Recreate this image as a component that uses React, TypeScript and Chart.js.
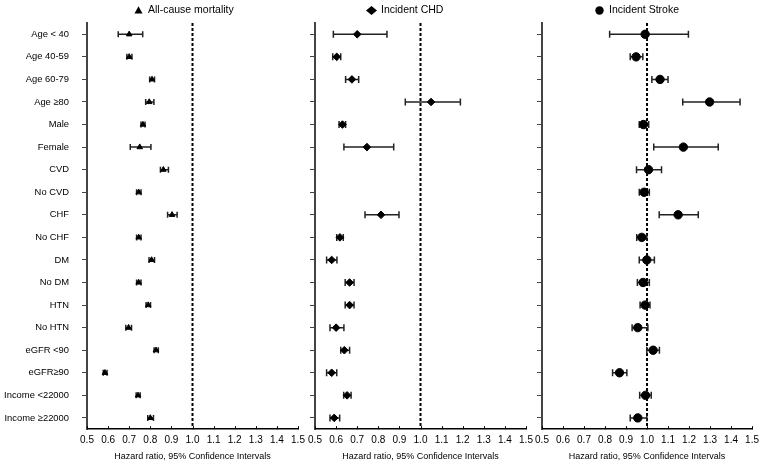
import React, { useEffect, useRef } from 'react';
import { Chart, registerables } from 'chart.js';

Chart.register(...registerables);

const FONT = '"Liberation Sans", Arial, sans-serif';

const categories = [
  'Age < 40', 'Age 40-59', 'Age 60-79', 'Age ≥80', 'Male', 'Female', 'CVD', 'No CVD', 'CHF',
  'No CHF', 'DM', 'No DM', 'HTN', 'No HTN', 'eGFR <90', 'eGFR≥90', 'Income <22000', 'Income ≥22000',
];

const xTicks = [0.5, 0.6, 0.7, 0.8, 0.9, 1.0, 1.1, 1.2, 1.3, 1.4, 1.5];

const mortalityHR = [0.70, 0.70, 0.808, 0.795, 0.765, 0.75, 0.862, 0.745, 0.903, 0.745, 0.806, 0.745, 0.79, 0.697, 0.827, 0.585, 0.742, 0.80];
const mortalityLo = [0.648, 0.689, 0.797, 0.778, 0.756, 0.705, 0.848, 0.735, 0.882, 0.735, 0.794, 0.735, 0.78, 0.684, 0.818, 0.577, 0.733, 0.788];
const mortalityHi = [0.764, 0.713, 0.82, 0.817, 0.775, 0.803, 0.886, 0.756, 0.927, 0.756, 0.82, 0.756, 0.801, 0.711, 0.838, 0.595, 0.752, 0.815];

const chdHR = [0.70, 0.603, 0.675, 1.05, 0.63, 0.746, null, null, 0.813, 0.618, 0.579, 0.664, 0.664, 0.60, 0.639, 0.579, 0.652, 0.591];
const chdLo = [0.587, 0.584, 0.645, 0.928, 0.614, 0.637, null, null, 0.737, 0.603, 0.555, 0.643, 0.643, 0.571, 0.622, 0.555, 0.636, 0.571];
const chdHi = [0.841, 0.622, 0.707, 1.189, 0.645, 0.873, null, null, 0.898, 0.634, 0.604, 0.685, 0.685, 0.637, 0.664, 0.603, 0.671, 0.617];

const strokeHR = [0.991, 0.948, 1.062, 1.298, 0.983, 1.173, 1.007, 0.986, 1.148, 0.975, 0.999, 0.981, 0.991, 0.956, 1.029, 0.869, 0.993, 0.956];
const strokeLo = [0.822, 0.92, 1.023, 1.17, 0.963, 1.032, 0.95, 0.963, 1.058, 0.951, 0.963, 0.954, 0.967, 0.929, 0.999, 0.836, 0.965, 0.92];
const strokeHi = [1.197, 0.98, 1.10, 1.443, 1.008, 1.339, 1.069, 1.011, 1.244, 0.999, 1.035, 1.011, 1.014, 1.004, 1.059, 0.904, 1.02, 0.999];

const legendLabels = ['All-cause mortality', 'Incident CHD', 'Incident Stroke'];
const xTitle = 'Hazard ratio, 95% Confidence Intervals';
const refValue = 1.0;

type Panel = {
  label: string;
  hr: (number | null)[];
  lo: (number | null)[];
  hi: (number | null)[];
  pointStyle: 'triangle' | 'rectRot' | 'circle';
  radius: number;
  showLabels: boolean;
  left: number;
  width: number;
  axisWidth: number;
  padRight: number;
  legendTextOffset: number;
  capHalf: number;
};

const panels: Panel[] = [
  { label: legendLabels[0], hr: mortalityHR, lo: mortalityLo, hi: mortalityHi, pointStyle: 'triangle', radius: 3.2, showLabels: true,
    left: 0, width: 312, axisWidth: 87, padRight: 14, legendTextOffset: 61, capHalf: 3 },
  { label: legendLabels[1], hr: chdHR, lo: chdLo, hi: chdHi, pointStyle: 'rectRot', radius: 3.8, showLabels: false,
    left: 300, width: 240, axisWidth: 15, padRight: 14, legendTextOffset: 66, capHalf: 3.5 },
  { label: legendLabels[2], hr: strokeHR, lo: strokeLo, hi: strokeHi, pointStyle: 'circle', radius: 4.2, showLabels: false,
    left: 528, width: 236, axisWidth: 14, padRight: 11, legendTextOffset: 67, capHalf: 3.5 },
];

function drawMarker(ctx: CanvasRenderingContext2D, style: string, cx: number, cy: number) {
  ctx.beginPath();
  if (style === 'triangle') {
    ctx.moveTo(cx, cy - 4.2);
    ctx.lineTo(cx + 4, cy + 3);
    ctx.lineTo(cx - 4, cy + 3);
    ctx.closePath();
  } else if (style === 'rectRot') {
    ctx.moveTo(cx, cy - 4.5);
    ctx.lineTo(cx + 5.5, cy);
    ctx.lineTo(cx, cy + 4.5);
    ctx.lineTo(cx - 5.5, cy);
    ctx.closePath();
  } else {
    ctx.arc(cx, cy, 4.2, 0, Math.PI * 2);
  }
  ctx.fill();
}

function makeForestPlugin(p: Panel) {
  return {
    id: 'forest',
    beforeDatasetsDraw(chart: any) {
      const { ctx, chartArea, scales } = chart;
      const x = scales.x;
      const y = scales.y;
      ctx.save();
      // reference line
      const rx = x.getPixelForValue(refValue);
      ctx.strokeStyle = '#000';
      ctx.lineWidth = 2;
      ctx.setLineDash([3, 2]);
      ctx.beginPath();
      ctx.moveTo(rx, chartArea.top);
      ctx.lineTo(rx, chartArea.bottom);
      ctx.stroke();
      ctx.setLineDash([]);
      // confidence intervals
      ctx.strokeStyle = '#222';
      ctx.lineWidth = 1.5;
      p.lo.forEach((lo, i) => {
        const hi = p.hi[i];
        if (lo == null || hi == null) return;
        const py = y.getPixelForValue(i);
        const x1 = x.getPixelForValue(lo);
        const x2 = x.getPixelForValue(hi);
        ctx.beginPath();
        ctx.moveTo(x1, py);
        ctx.lineTo(x2, py);
        ctx.moveTo(x1, py - p.capHalf);
        ctx.lineTo(x1, py + p.capHalf);
        ctx.moveTo(x2, py - p.capHalf);
        ctx.lineTo(x2, py + p.capHalf);
        ctx.stroke();
      });
      ctx.restore();
    },
    afterDraw(chart: any) {
      const { ctx, chartArea, scales } = chart;
      const x = scales.x;
      ctx.save();
      // small inward x tick marks
      ctx.strokeStyle = '#000';
      ctx.lineWidth = 1;
      x.ticks.forEach((t: any) => {
        const px = Math.round(x.getPixelForValue(t.value)) + 0.5;
        ctx.beginPath();
        ctx.moveTo(px, chartArea.bottom);
        ctx.lineTo(px, chartArea.bottom - 3);
        ctx.stroke();
      });
      // legend
      const tx = chartArea.left + p.legendTextOffset;
      const ty = 10.5;
      ctx.fillStyle = '#000';
      drawMarker(ctx, p.pointStyle, tx - 9.5, ty);
      ctx.font = `10.5px ${FONT}`;
      ctx.textAlign = 'left';
      ctx.textBaseline = 'middle';
      ctx.fillText(p.label, tx, ty);
      ctx.restore();
    },
  };
}

function PanelChart({ p }: { p: Panel }) {
  const ref = useRef<HTMLCanvasElement | null>(null);
  useEffect(() => {
    if (!ref.current) return;
    const data = categories
      .map((c, i) => (p.hr[i] == null ? null : { x: p.hr[i] as number, y: c }))
      .filter((d) => d !== null);
    const chart = new Chart(ref.current, {
      type: 'scatter',
      data: {
        datasets: [
          {
            label: p.label,
            data: data as any,
            pointStyle: p.pointStyle,
            pointRadius: p.radius,
            pointBorderWidth: 1,
            backgroundColor: '#000',
            borderColor: '#000',
            clip: false as any,
          },
        ],
      },
      options: {
        responsive: false,
        animation: false,
        devicePixelRatio: 1,
        events: [],
        layout: { padding: { left: 0, right: p.padRight, top: 23, bottom: 6 } },
        plugins: { legend: { display: false }, tooltip: { enabled: false } },
        scales: {
          x: {
            type: 'linear',
            min: xTicks[0],
            max: xTicks[xTicks.length - 1],
            afterBuildTicks: (s: any) => {
              s.ticks = xTicks.map((v) => ({ value: v }));
            },
            ticks: {
              autoSkip: false,
              maxRotation: 0,
              padding: 5,
              color: '#000',
              font: { family: FONT, size: 10 },
              callback: (v: any) => Number(v).toFixed(1),
            },
            grid: { drawOnChartArea: false, drawTicks: false },
            border: { color: '#000', width: 1.5 },
            title: {
              display: true,
              text: xTitle,
              color: '#000',
              font: { family: FONT, size: 9 },
              padding: { top: 0, bottom: 0 },
            },
          },
          y: {
            type: 'category',
            labels: categories,
            offset: true,
            afterFit: (s: any) => {
              s.width = p.axisWidth;
            },
            ticks: {
              display: p.showLabels,
              autoSkip: false,
              padding: 13,
              color: '#000',
              font: { family: FONT, size: 9.4 },
            },
            grid: { drawOnChartArea: false, offset: false, tickLength: 5, color: '#444', tickWidth: 1 },
            border: { color: '#444', width: 2 },
          },
        },
      },
      plugins: [makeForestPlugin(p)],
    });
    return () => chart.destroy();
  }, [p]);
  return (
    <canvas
      ref={ref}
      width={p.width}
      height={468}
      style={{ position: 'absolute', left: p.left, top: 0, width: p.width, height: 468 }}
    />
  );
}

export default function App() {
  return (
    <div style={{ position: 'fixed', left: 0, top: 0, width: 764, height: 468, background: '#fff', overflow: 'hidden' }}>
      {panels.map((p, i) => (
        <PanelChart key={i} p={p} />
      ))}
    </div>
  );
}
